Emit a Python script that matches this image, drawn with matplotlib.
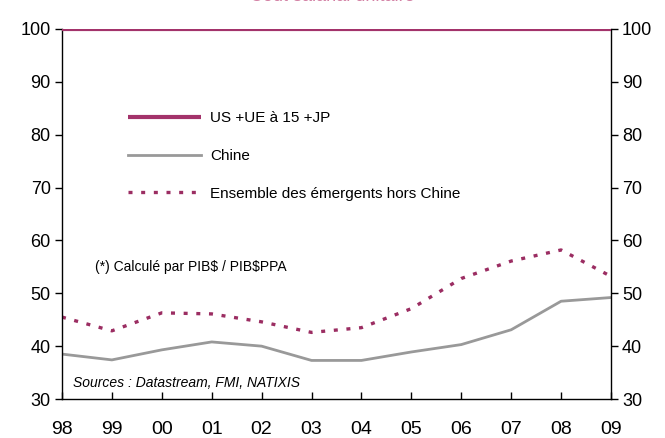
import matplotlib
matplotlib.use("Agg")
import matplotlib.pyplot as plt

years = ["98", "99", "00", "01", "02", "03", "04", "05", "06", "07", "08", "09"]
us_ue_jp = [100, 100, 100, 100, 100, 100, 100, 100, 100, 100, 100, 100]
chine = [38.5, 37.4, 39.3, 40.8, 40.0, 37.3, 37.3, 38.9, 40.3, 43.1, 48.5, 49.2]
emergents = [45.5, 42.9, 46.3, 46.1, 44.6, 42.6, 43.5, 47.1, 52.8, 56.1, 58.2, 53.2]

label_us = "US +UE à 15 +JP"
label_chine = "Chine"
label_em = "Ensemble des émergents hors Chine"
title = "Coût salarial unitaire"
note = r"(*) Calculé par PIB\$ / PIB\$PPA"
source = "Sources : Datastream, FMI, NATIXIS"
yticks = [30, 40, 50, 60, 70, 80, 90, 100]

plt.rcParams['font.family'] = ['Liberation Sans', 'DejaVu Sans']

fig = plt.figure(figsize=(6.65, 4.38), dpi=100)
ax = fig.add_axes([0.0932, 0.0890, 0.8256, 0.8448])

x = list(range(len(years)))
ax.plot(x, us_ue_jp, color="#A3336B", lw=3.0, label=label_us, solid_capstyle='butt', zorder=3)
ax.plot(x, chine, color="#999999", lw=2.0, label=label_chine)
ax.plot(x, emergents, color="#9B2D62", lw=2.4, linestyle=(0, (1.2, 2.6)), label=label_em)

ax.set_xlim(0, len(years) - 1)
ax.set_ylim(30, 100)
ax.set_xticks(x)
ax.set_xticklabels(years, fontsize=14)
ax.set_yticks(yticks)
ax.set_yticklabels([str(v) for v in yticks], fontsize=13)
ax.tick_params(axis='x', direction='in', length=5, width=1, pad=16)
ax.tick_params(axis='y', direction='out', length=5, width=1, pad=3, left=True, right=True,
               labelleft=True, labelright=True)
ax.spines['top'].set_visible(False)
for s in ['left', 'right', 'bottom']:
    ax.spines[s].set_linewidth(1)
    ax.spines[s].set_color('black')

leg = ax.legend(loc='upper left', bbox_to_anchor=(0.095, 0.815), frameon=False,
                fontsize=11, handlelength=4.8, handletextpad=0.6, labelspacing=1.55)

ax.text(0.06, 0.357, note, transform=ax.transAxes, fontsize=10, va='center', ha='left')
ax.text(0.02, 0.043, source, transform=ax.transAxes, fontsize=10, va='center', ha='left',
        style='italic')

fig.text(0.5, 1 - 1 / 438, title, ha='center', va='baseline', fontsize=13, color='#D27FA3')

fig.savefig("out.png", dpi=100)
